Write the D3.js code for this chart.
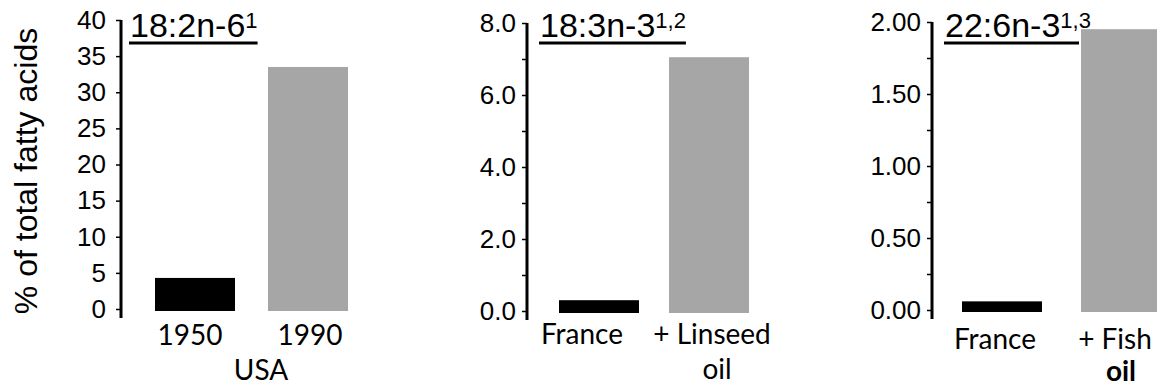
<!DOCTYPE html>
<html>
<head>
<meta charset="utf-8">
<script src="https://cdn.jsdelivr.net/npm/d3@7"></script>
<style>
  body { margin: 0; background: #fff; }
  svg { display: block; }
  .tick text { font-family: "Liberation Sans", Arial, sans-serif; font-size: 26px; fill: #000; }
  .xlab { font-family: Lato, "Open Sans", sans-serif; font-size: 28px; fill: #000; }
  .title { font-family: "Liberation Sans", Arial, sans-serif; font-size: 34px; fill: #000; }
  .ylab { font-family: "Liberation Sans", Arial, sans-serif; font-size: 32px; fill: #000; }
</style>
</head>
<body>
<svg id="chart" width="1157" height="389"></svg>
<script>
// values, % of total fatty acids
const lnCategories = ['1950', '1990'];
const lnValues = [4.3, 33.5];
const lnTicks = [0, 5, 10, 15, 20, 25, 30, 35, 40];

const alaCategories = ['France', '+ Linseed\noil'];
const alaValues = [0.3, 7.05];
const alaTicks = [0, 2, 4, 6, 8];
const alaMinor = [1, 3, 5, 7];

const dhaCategories = ['France', '+ Fish\noil'];
const dhaValues = [0.06, 1.95];
const dhaTicks = [0, 0.5, 1, 1.5, 2];
const dhaMinor = [0.25, 0.75, 1.25, 1.75];

const barColors = ['#000000', '#a6a6a6'];

let svg = d3.select('#chart');

// layout of the three panels
let panels = [
  {title: '18:2n-6', sup: '1', categories: lnCategories, values: lnValues, ticks: lnTicks, minor: [],
   fmt: 'd', axisX: 121, yRange: [309, 20], xRange: [155, 348], pad: 0.292, tickPadding: 10,
   titleX: 130, labelY: 345, lineGap: 35, labelDx: [[-5], [2]], group: {text: 'USA', x: 261, y: 380}},
  {title: '18:3n-3', sup: '1,2', categories: alaCategories, values: alaValues, ticks: alaTicks, minor: alaMinor,
   fmt: '.1f', axisX: 527, yRange: [311, 23], xRange: [559, 749], pad: 0.273, tickPadding: 6,
   titleX: 540, labelY: 344, lineGap: 35, labelDx: [[-17], [3, 8]], boldLast: false},
  {title: '22:6n-3', sup: '1,3', categories: dhaCategories, values: dhaValues, ticks: dhaTicks, minor: dhaMinor,
   fmt: '.2f', axisX: 932, yRange: [310, 22], xRange: [962, 1161], pad: 0.328, tickPadding: 6,
   titleX: 945, labelY: 349, lineGap: 32, labelDx: [[-7], [-6, 0]], boldLast: true, lineEnd: 1079}
];

let drawPanel = (p) => {
  let g = svg.append('g');
  let top = p.ticks[p.ticks.length - 1];
  let y = d3.scaleLinear().domain([0, top]).range(p.yRange);
  let x = d3.scaleBand().domain(p.categories).range(p.xRange).paddingInner(p.pad);

  g.selectAll('rect')
    .data(p.values)
    .enter()
    .append('rect')
    .attr('x', (d, i) => x(p.categories[i]))
    .attr('y', d => y(d))
    .attr('width', x.bandwidth())
    .attr('height', d => y(0) - y(d) + 2)
    .attr('fill', (d, i) => barColors[i]);

  let ag = g.append('g')
    .attr('transform', `translate(${p.axisX},0)`)
    .call(d3.axisLeft(y).tickValues(p.ticks).tickFormat(d3.format(p.fmt)).tickSize(5).tickPadding(p.tickPadding));
  ag.select('.domain').remove();
  ag.selectAll('.tick line').attr('stroke', '#000').attr('stroke-width', 1.5);

  if (p.minor.length) {
    let mg = g.append('g')
      .attr('transform', `translate(${p.axisX},0)`)
      .call(d3.axisLeft(y).tickValues(p.minor).tickFormat('').tickSize(5));
    mg.select('.domain').remove();
    mg.selectAll('.tick line').attr('stroke', '#000').attr('stroke-width', 1.5);
  }

  g.append('line')
    .attr('x1', p.axisX).attr('x2', p.axisX)
    .attr('y1', y(top)).attr('y2', y(0) + 9)
    .attr('stroke', '#000')
    .attr('stroke-width', 3);

  // title with superscript, underlined
  let t = g.append('text')
    .attr('class', 'title')
    .attr('x', p.titleX)
    .attr('y', 37)
    .text(p.title);
  t.append('tspan')
    .attr('font-size', 22)
    .attr('dy', -9)
    .text(p.sup);
  let bb = t.node().getBBox();
  g.append('line')
    .attr('x1', bb.x - 1).attr('x2', p.lineEnd || bb.x + bb.width)
    .attr('y1', 43).attr('y2', 43)
    .attr('stroke', '#000')
    .attr('stroke-width', 3);

  // category labels
  p.categories.forEach((c, i) => {
    let lines = c.split('\n');
    lines.forEach((line, j) => {
      g.append('text')
        .attr('class', 'xlab')
        .attr('text-anchor', 'middle')
        .attr('x', x(c) + x.bandwidth() / 2 + p.labelDx[i][j])
        .attr('y', p.labelY + j * p.lineGap)
        .attr('font-weight', (p.boldLast && j === 1) ? 'bold' : 'normal')
        .text(line);
    });
  });

  if (p.group) {
    g.append('text')
      .attr('class', 'xlab')
      .attr('text-anchor', 'middle')
      .attr('x', p.group.x)
      .attr('y', p.group.y)
      .text(p.group.text);
  }
}

panels.forEach(drawPanel);

svg.append('text')
  .attr('class', 'ylab')
  .attr('text-anchor', 'middle')
  .attr('transform', 'translate(37,171) rotate(-90)')
  .text('% of total fatty acids');
</script>
</body>
</html>
